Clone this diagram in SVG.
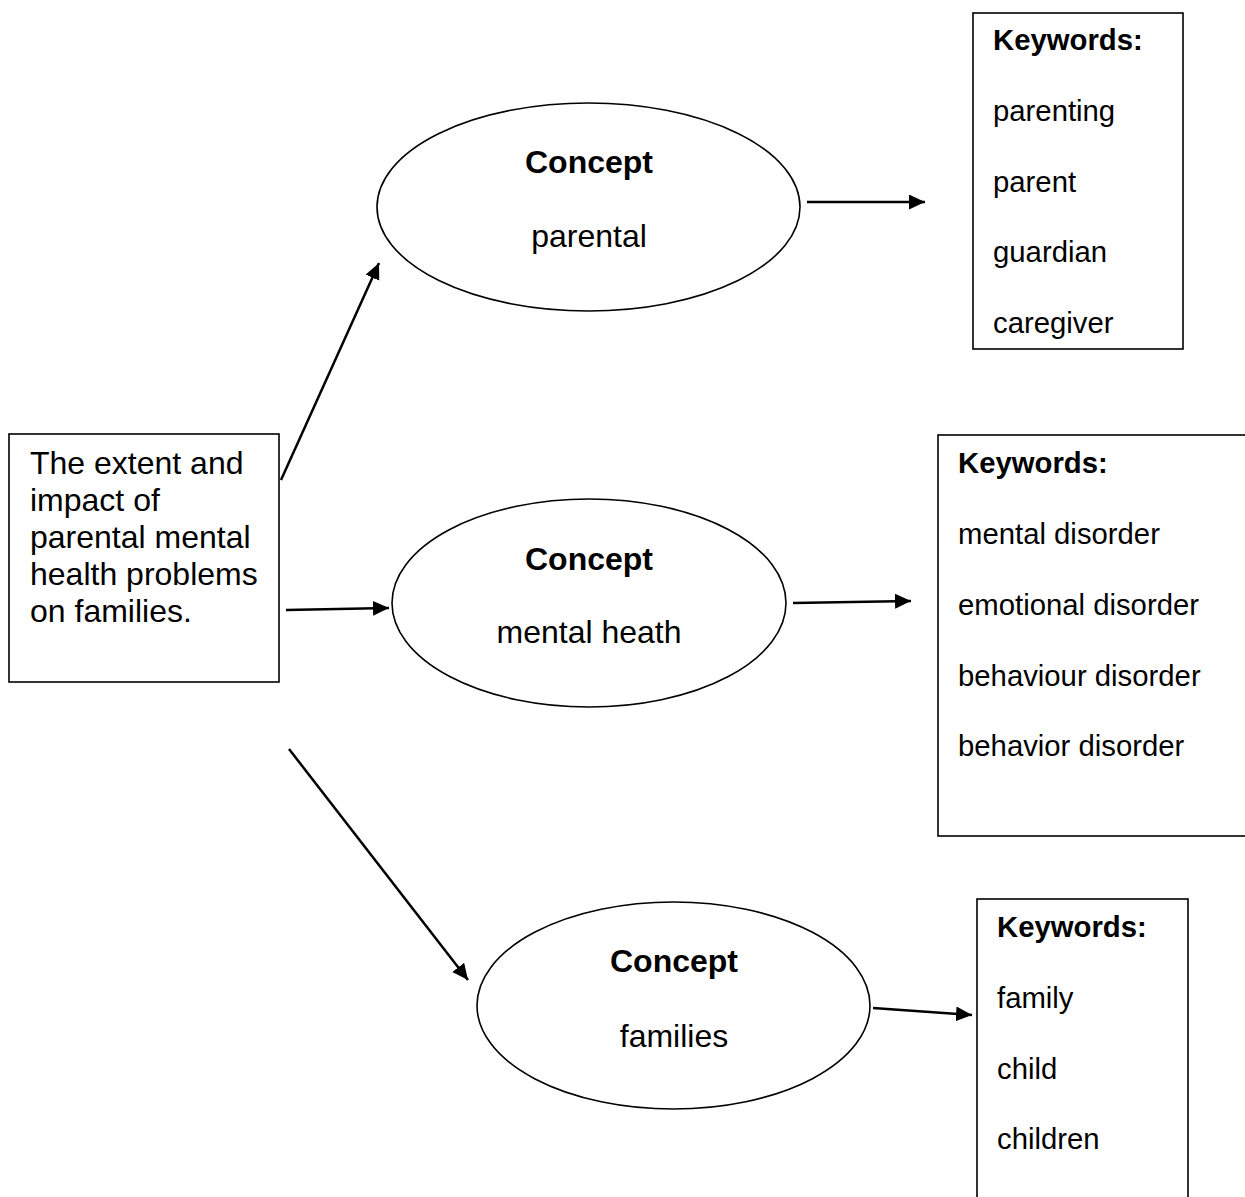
<svg xmlns="http://www.w3.org/2000/svg" width="1245" height="1197" viewBox="0 0 1245 1197">
<style>
text{font-family:"Liberation Sans",Arial,sans-serif;fill:#000}
.src{font-size:32px}
.con{font-size:32px;text-anchor:middle}
.bold{font-weight:bold}
.kw{font-size:29.3px}
.box{fill:#fff;stroke:#000;stroke-width:1.6}
.ell{fill:#fff;stroke:#000;stroke-width:1.6}
.conn line{stroke:#000;stroke-width:2.5;marker-end:url(#ah)}
</style>
<defs>
<marker id="ah" markerUnits="userSpaceOnUse" markerWidth="18" markerHeight="16" refX="16" refY="7.5" orient="auto">
<path d="M0,0 L16,7.5 L0,15 z" fill="#000"/>
</marker>
</defs>
<rect width="1245" height="1197" fill="#fff"/>
<g id="source">
<rect class="box" x="9" y="434" width="270" height="248"/>
<text class="src" x="30" y="474">The extent and</text>
<text class="src" x="30" y="511">impact of</text>
<text class="src" x="30" y="548">parental mental</text>
<text class="src" x="30" y="585">health problems</text>
<text class="src" x="30" y="622">on families.</text>
</g>
<g id="concept-parental">
<ellipse class="ell" cx="588.5" cy="207" rx="211.5" ry="104"/>
<text class="con bold" x="589" y="173">Concept</text>
<text class="con" x="589" y="247">parental</text>
</g>
<g id="concept-mental">
<ellipse class="ell" cx="589" cy="603" rx="197" ry="104"/>
<text class="con bold" x="589" y="570">Concept</text>
<text class="con" x="589" y="643">mental heath</text>
</g>
<g id="concept-families">
<ellipse class="ell" cx="673.5" cy="1005.5" rx="196.5" ry="103.5"/>
<text class="con bold" x="674" y="972">Concept</text>
<text class="con" x="674" y="1047">families</text>
</g>
<g id="keywords-parental">
<rect class="box" x="973" y="13" width="210" height="336"/>
<text class="kw bold" x="993" y="50">Keywords:</text>
<text class="kw" x="993" y="121">parenting</text>
<text class="kw" x="993" y="192">parent</text>
<text class="kw" x="993" y="262">guardian</text>
<text class="kw" x="993" y="333">caregiver</text>
</g>
<g id="keywords-mental">
<rect class="box" x="938" y="435" width="320" height="401"/>
<text class="kw bold" x="958" y="473">Keywords:</text>
<text class="kw" x="958" y="544">mental disorder</text>
<text class="kw" x="958" y="615">emotional disorder</text>
<text class="kw" x="958" y="686">behaviour disorder</text>
<text class="kw" x="958" y="756">behavior disorder</text>
</g>
<g id="keywords-families">
<rect class="box" x="977" y="899" width="211" height="320"/>
<text class="kw bold" x="997" y="937">Keywords:</text>
<text class="kw" x="997" y="1008">family</text>
<text class="kw" x="997" y="1079">child</text>
<text class="kw" x="997" y="1149">children</text>
</g>
<g id="connectors" class="conn">
<line x1="281" y1="480" x2="379" y2="263"/>
<line x1="286" y1="610" x2="389" y2="608"/>
<line x1="289" y1="749" x2="468" y2="980"/>
<line x1="807" y1="202" x2="925" y2="202"/>
<line x1="793" y1="603" x2="911" y2="601"/>
<line x1="873" y1="1008" x2="972" y2="1015"/>
</g>
</svg>
